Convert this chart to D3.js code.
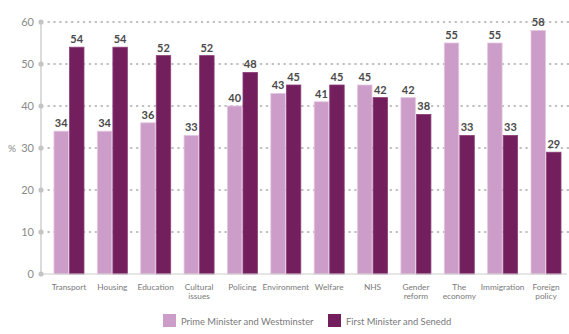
<!DOCTYPE html>
<html><head><meta charset="utf-8">
<script src="https://cdn.jsdelivr.net/npm/d3@7"></script>
<style>body{margin:0;background:#fff;}svg{display:block;font-family:Lato,"Open Sans",sans-serif;}</style>
</head><body><svg id="c" width="569" height="334"></svg>
<script>
const categories = [["Transport"],["Housing"],["Education"],["Cultural","issues"],["Policing"],["Environment"],["Welfare"],["NHS"],["Gender","reform"],["The","economy"],["Immigration"],["Foreign","policy"]];
const westminster = [34,34,36,33,40,43,41,45,42,55,55,58];
const senedd = [54,54,52,52,48,45,45,42,38,33,33,29];
const seriesNames = ["Prime Minister and Westminster","First Minister and Senedd"];
const colors = ["#cd9dc9","#731f5e"];
const yTicks = [0,10,20,30,40,50,60];

const svg = d3.select("#c");
const y = d3.scaleLinear().domain([0,60]).range([274,22]);
const x = d3.scaleBand().domain(d3.range(categories.length)).range([47.3,567.7]).paddingInner(0).paddingOuter(0);
const xs = d3.scaleBand().domain([0,1]).range([-15,15]).paddingInner(0.07);

// gridlines
svg.append("g").selectAll("line").data(yTicks.filter(d=>d>0)).join("line")
  .attr("x1",48).attr("x2",569).attr("y1",d=>y(d)).attr("y2",d=>y(d))
  .attr("stroke","#aaa").attr("stroke-width",1.3).attr("stroke-dasharray","1.3,4.6").attr("stroke-linecap","round");

// bars
const g = svg.append("g");
const series = [westminster, senedd];
series.forEach((vals,si)=>{
  g.selectAll(null).data(vals).join("rect")
    .attr("x",(d,i)=>x(i)+x.bandwidth()/2+xs(si))
    .attr("width",xs.bandwidth())
    .attr("y",d=>y(d))
    .attr("height",d=>y(0)-y(d))
    .attr("fill",colors[si])
    .attr("stroke",si===0?"#e3c6e0":"#8c3f78").attr("stroke-width",0.8);
  g.selectAll(null).data(vals).join("text")
    .attr("x",(d,i)=>x(i)+x.bandwidth()/2+xs(si)+xs.bandwidth()/2)
    .attr("y",d=>y(d)-4)
    .attr("text-anchor","middle").attr("font-size",11).attr("font-weight","bold").attr("fill","#4a4a4a")
    .text(d=>d);
});

// x baseline
svg.append("line").attr("x1",41).attr("x2",567).attr("y1",y(0)).attr("y2",y(0)).attr("stroke","#ccc").attr("stroke-width",1);

// y axis
const ya = svg.append("g");
ya.append("line").attr("x1",41).attr("x2",41).attr("y1",y(60)).attr("y2",y(0)).attr("stroke","#c4c4c4").attr("stroke-width",1.2);
ya.selectAll("circle").data(yTicks).join("circle").attr("cx",41).attr("cy",d=>y(d)).attr("r",2.6).attr("fill","#c4c4c4");
ya.selectAll("text").data(yTicks).join("text").attr("x",34).attr("y",d=>y(d)+4)
  .attr("text-anchor","end").attr("font-size",11).attr("fill","#8a8a8a").text(d=>d);
svg.append("text").attr("x",8).attr("y",152).attr("font-size",10).attr("fill","#8a8a8a").text("%");

// category labels
const cl = svg.append("g");
categories.forEach((lines,i)=>{
  const t = cl.append("text").attr("x",x(i)+x.bandwidth()/2).attr("y",289.5).attr("text-anchor","middle")
    .attr("font-size",8.3).attr("fill","#7a7a7a");
  lines.forEach((l,j)=>t.append("tspan").attr("x",x(i)+x.bandwidth()/2).attr("dy",j?9.8:0).text(l));
});

// legend
const legX = [163,328];
seriesNames.forEach((n,i)=>{
  svg.append("rect").attr("x",legX[i]).attr("y",314).attr("width",13).attr("height",13).attr("fill",colors[i]);
  svg.append("text").attr("x",legX[i]+18).attr("y",324.5).attr("font-size",9.4).attr("fill","#7a7a7a").text(n);
});
</script></body></html>
